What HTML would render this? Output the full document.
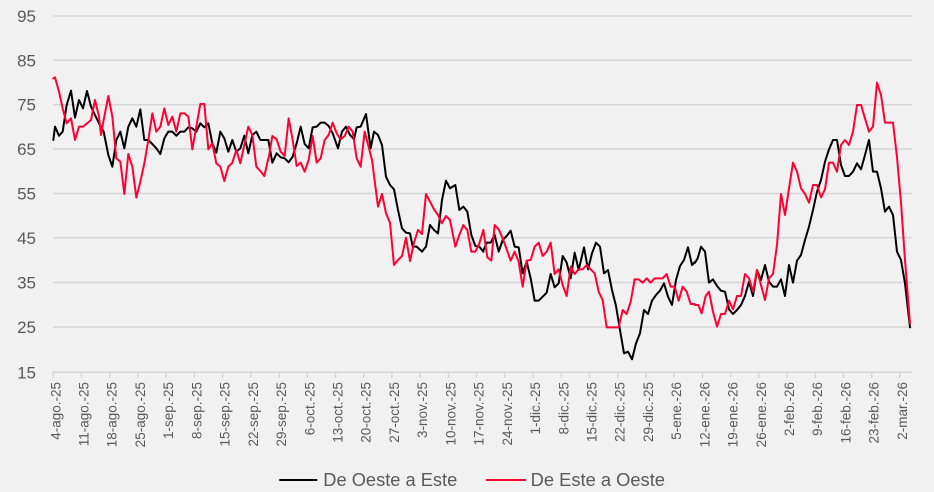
<!DOCTYPE html>
<html><head><meta charset="utf-8"><style>
html,body{margin:0;padding:0;background:#f2f1f1;}
svg{display:block;}
text{font-family:"Liberation Sans",sans-serif;fill:#595959;}
</style></head><body>
<svg width="934" height="492" viewBox="0 0 934 492" xmlns="http://www.w3.org/2000/svg">
<rect width="934" height="492" fill="#f2f1f1"/>
<g stroke="#d6d6d6" stroke-width="1.5">
<line x1="53" y1="16" x2="912" y2="16"/>
<line x1="53" y1="60.3" x2="912" y2="60.3"/>
<line x1="53" y1="104.7" x2="912" y2="104.7"/>
<line x1="53" y1="149" x2="912" y2="149"/>
<line x1="53" y1="193.5" x2="912" y2="193.5"/>
<line x1="53" y1="237.8" x2="912" y2="237.8"/>
<line x1="53" y1="282.5" x2="912" y2="282.5"/>
<line x1="53" y1="327" x2="912" y2="327"/>
<line x1="53" y1="372.3" x2="912" y2="372.3"/>
</g>
<g stroke="#d6d6d6" stroke-width="1.5" id="ticks">
<line x1="53.3" y1="372" x2="53.3" y2="378"/><line x1="81.5" y1="372" x2="81.5" y2="378"/><line x1="109.7" y1="372" x2="109.7" y2="378"/><line x1="138" y1="372" x2="138" y2="378"/><line x1="166.2" y1="372" x2="166.2" y2="378"/><line x1="194.4" y1="372" x2="194.4" y2="378"/><line x1="222.6" y1="372" x2="222.6" y2="378"/><line x1="250.8" y1="372" x2="250.8" y2="378"/><line x1="279.1" y1="372" x2="279.1" y2="378"/><line x1="307.3" y1="372" x2="307.3" y2="378"/><line x1="335.5" y1="372" x2="335.5" y2="378"/><line x1="363.7" y1="372" x2="363.7" y2="378"/><line x1="391.9" y1="372" x2="391.9" y2="378"/><line x1="420.2" y1="372" x2="420.2" y2="378"/><line x1="448.4" y1="372" x2="448.4" y2="378"/><line x1="476.6" y1="372" x2="476.6" y2="378"/><line x1="504.8" y1="372" x2="504.8" y2="378"/><line x1="533" y1="372" x2="533" y2="378"/><line x1="561.3" y1="372" x2="561.3" y2="378"/><line x1="589.5" y1="372" x2="589.5" y2="378"/><line x1="617.7" y1="372" x2="617.7" y2="378"/><line x1="645.9" y1="372" x2="645.9" y2="378"/><line x1="674.1" y1="372" x2="674.1" y2="378"/><line x1="702.4" y1="372" x2="702.4" y2="378"/><line x1="730.6" y1="372" x2="730.6" y2="378"/><line x1="758.8" y1="372" x2="758.8" y2="378"/><line x1="787" y1="372" x2="787" y2="378"/><line x1="815.2" y1="372" x2="815.2" y2="378"/><line x1="843.5" y1="372" x2="843.5" y2="378"/><line x1="871.7" y1="372" x2="871.7" y2="378"/><line x1="899.9" y1="372" x2="899.9" y2="378"/>
</g>
<g font-size="17" text-anchor="end">
<text x="36" y="22">95</text>
<text x="36" y="66.3">85</text>
<text x="36" y="110.7">75</text>
<text x="36" y="155">65</text>
<text x="36" y="199.5">55</text>
<text x="36" y="243.8">45</text>
<text x="36" y="288.5">35</text>
<text x="36" y="333">25</text>
<text x="36" y="378.3">15</text>
</g>
<g font-size="13.5" text-anchor="end">
<text transform="translate(60.3 382) rotate(-90)">4-ago.-25</text>
<text transform="translate(88.5 382) rotate(-90)">11-ago.-25</text>
<text transform="translate(116.7 382) rotate(-90)">18-ago.-25</text>
<text transform="translate(145 382) rotate(-90)">25-ago.-25</text>
<text transform="translate(173.2 382) rotate(-90)">1-sep.-25</text>
<text transform="translate(201.4 382) rotate(-90)">8-sep.-25</text>
<text transform="translate(229.6 382) rotate(-90)">15-sep.-25</text>
<text transform="translate(257.8 382) rotate(-90)">22-sep.-25</text>
<text transform="translate(286.1 382) rotate(-90)">29-sep.-25</text>
<text transform="translate(314.3 382) rotate(-90)">6-oct.-25</text>
<text transform="translate(342.5 382) rotate(-90)">13-oct.-25</text>
<text transform="translate(370.7 382) rotate(-90)">20-oct.-25</text>
<text transform="translate(398.9 382) rotate(-90)">27-oct.-25</text>
<text transform="translate(427.2 382) rotate(-90)">3-nov.-25</text>
<text transform="translate(455.4 382) rotate(-90)">10-nov.-25</text>
<text transform="translate(483.6 382) rotate(-90)">17-nov.-25</text>
<text transform="translate(511.8 382) rotate(-90)">24-nov.-25</text>
<text transform="translate(540 382) rotate(-90)">1-dic.-25</text>
<text transform="translate(568.3 382) rotate(-90)">8-dic.-25</text>
<text transform="translate(596.5 382) rotate(-90)">15-dic.-25</text>
<text transform="translate(624.7 382) rotate(-90)">22-dic.-25</text>
<text transform="translate(652.9 382) rotate(-90)">29-dic.-25</text>
<text transform="translate(681.1 382) rotate(-90)">5-ene.-26</text>
<text transform="translate(709.4 382) rotate(-90)">12-ene.-26</text>
<text transform="translate(737.6 382) rotate(-90)">19-ene.-26</text>
<text transform="translate(765.8 382) rotate(-90)">26-ene.-26</text>
<text transform="translate(794 382) rotate(-90)">2-feb.-26</text>
<text transform="translate(822.2 382) rotate(-90)">9-feb.-26</text>
<text transform="translate(850.5 382) rotate(-90)">16-feb.-26</text>
<text transform="translate(878.7 382) rotate(-90)">23-feb.-26</text>
<text transform="translate(906.9 382) rotate(-90)">2-mar.-26</text>
</g>
<g fill="none" stroke-linejoin="round" stroke-linecap="round">
<!-- black series -->
<g stroke="#000" >
<polyline vector-effect="non-scaling-stroke" stroke-width="2" transform="translate(50 70) scale(0.33333)" points="10,210 15,170 27,197 38,185 50,105 63,62 75,143 87,90 99,115 111,63 123,110 135,135 147,160 161,185 175,255 187,290 199,210 211,185 223,235 235,170 247,145 259,170 271,118 283,210 295,210 307,222 319,235 331,252 343,205 355,185 367,185 379,197 391,185 403,185 415,172 427,175 439,185 451,160 463,172 475,160 487,220 499,248 511,185 523,205 535,245 547,210 559,245 571,235 583,197 595,250 607,195 619,185 631,210 643,210 655,210"/>
<polyline vector-effect="non-scaling-stroke" stroke-width="2" transform="translate(265 100) scale(0.33333)" points="10,120 22,188 35,160 47,172 59,175 71,187 83,170 95,130 107,80 119,132 131,145 143,82 155,80 167,68 179,68 191,78 203,100 219,145 231,95 243,80 255,105 267,118 275,82 287,80 303,42 317,145 327,95 339,105 351,135 363,230 375,255 387,268 399,330 411,385 423,398 435,400 443,440 455,440 471,455 483,440 495,375 507,390 519,400 531,300 543,242 555,265 571,255 583,330 595,320 607,335 619,405 631,438 643,440 655,455"/>
<polyline vector-effect="non-scaling-stroke" stroke-width="2" transform="translate(480 170) scale(0.33333)" points="10,242 20,218 32,218 44,195 56,245 68,210 80,198 92,182 104,230 116,232 128,310 140,275 152,325 164,392 176,392 188,380 200,368 212,312 224,352 236,340 248,258 260,278 272,325 284,248 296,300 312,232 324,298 336,250 348,218 360,230 372,310 384,300 396,360 408,408 420,480 432,550 444,545 456,568 468,520 480,490 492,420 504,432 516,392 528,375 540,362 552,340 564,380 576,405 588,330 600,288 612,270 624,232 636,285 645,276"/>
<polyline vector-effect="non-scaling-stroke" stroke-width="2" transform="translate(695 70) scale(0.33333)" points="0,578 8,565 18,530 30,545 42,638 54,628 66,648 78,662 90,665 102,718 114,732 126,720 138,705 150,678 162,635 174,678 186,600 198,630 210,585 222,635 234,650 246,650 258,628 270,678 282,585 294,638 306,572 318,555 330,510 342,470 354,420 366,365 378,330 390,275 402,238 414,210 426,210 438,285 450,318 462,318 474,305 486,280 498,298 510,255 522,210 534,305 546,305 558,355 570,425 582,410 594,435 606,545 618,570 630,640 645,772"/>
</g>
<!-- red series -->
<g stroke="#ff0033">
<polyline vector-effect="non-scaling-stroke" stroke-width="2" transform="translate(50 70) scale(0.33333)" points="10,25 15,22 27,65 38,115 50,160 63,145 75,210 87,170 99,170 111,160 123,150 135,90 147,140 153,195 161,150 175,78 187,140 199,265 211,275 223,372 235,252 247,290 259,383 271,335 283,280 295,210 307,130 319,185 331,170 343,115 355,165 367,140 379,185 391,130 403,130 415,140 427,238 439,170 451,102 463,102 475,238 487,220 499,280 511,290 523,333 535,290 547,278 559,240 571,280 583,225 595,170 607,195 619,290 631,303 643,318 655,265"/>
<polyline vector-effect="non-scaling-stroke" stroke-width="2" transform="translate(265 100) scale(0.33333)" points="10,180 22,108 35,118 47,155 59,168 71,55 83,120 95,198 107,188 119,215 131,180 143,108 155,188 167,175 179,120 191,105 203,68 215,100 227,118 239,108 251,80 263,95 275,175 287,200 299,95 321,180 339,320 351,282 363,340 375,368 387,495 399,480 411,468 423,413 435,483 447,428 459,390 471,402 483,282 495,305 507,328 519,345 531,370 543,348 555,360 571,440 583,405 595,375 607,390 619,455 631,455 643,430 655,390"/>
<polyline vector-effect="non-scaling-stroke" stroke-width="2" transform="translate(480 170) scale(0.33333)" points="10,180 22,262 34,272 44,165 56,178 68,205 80,238 92,272 104,245 116,275 128,350 140,272 152,270 164,230 176,218 188,258 200,245 212,218 224,312 236,298 248,345 260,378 272,290 284,312 296,298 308,298 320,285 332,298 344,310 356,365 368,390 380,472 392,472 404,472 416,472 428,420 440,432 452,395 464,328 476,328 488,338 500,325 512,338 524,325 536,325 548,325 560,312 572,350 584,350 596,392 608,350 620,365 632,402 644,402"/>
<polyline vector-effect="non-scaling-stroke" stroke-width="2" transform="translate(695 70) scale(0.33333)" points="0,705 10,705 20,730 32,678 42,665 54,725 66,770 78,732 90,732 102,692 114,718 126,678 138,678 150,612 162,625 174,665 186,600 198,645 210,690 222,625 234,612 246,525 258,372 270,435 282,355 294,278 306,305 318,355 330,372 342,398 354,345 366,345 378,382 390,358 402,278 414,278 426,305 438,225 450,210 462,225 474,185 486,105 498,105 510,145 522,185 534,170 546,38 558,75 570,158 582,158 594,158 606,262 618,398 630,570 645,760"/>
</g>
</g>
<!-- legend -->
<line x1="279.3" y1="480" x2="317.3" y2="480" stroke="#000" stroke-width="2"/>
<text x="323.3" y="486" font-size="18" textLength="134" lengthAdjust="spacingAndGlyphs">De Oeste a Este</text>
<line x1="486" y1="480" x2="526" y2="480" stroke="#ff0033" stroke-width="2"/>
<text x="530.7" y="486" font-size="18" textLength="134.3" lengthAdjust="spacingAndGlyphs">De Este a Oeste</text>
</svg>
</body></html>
